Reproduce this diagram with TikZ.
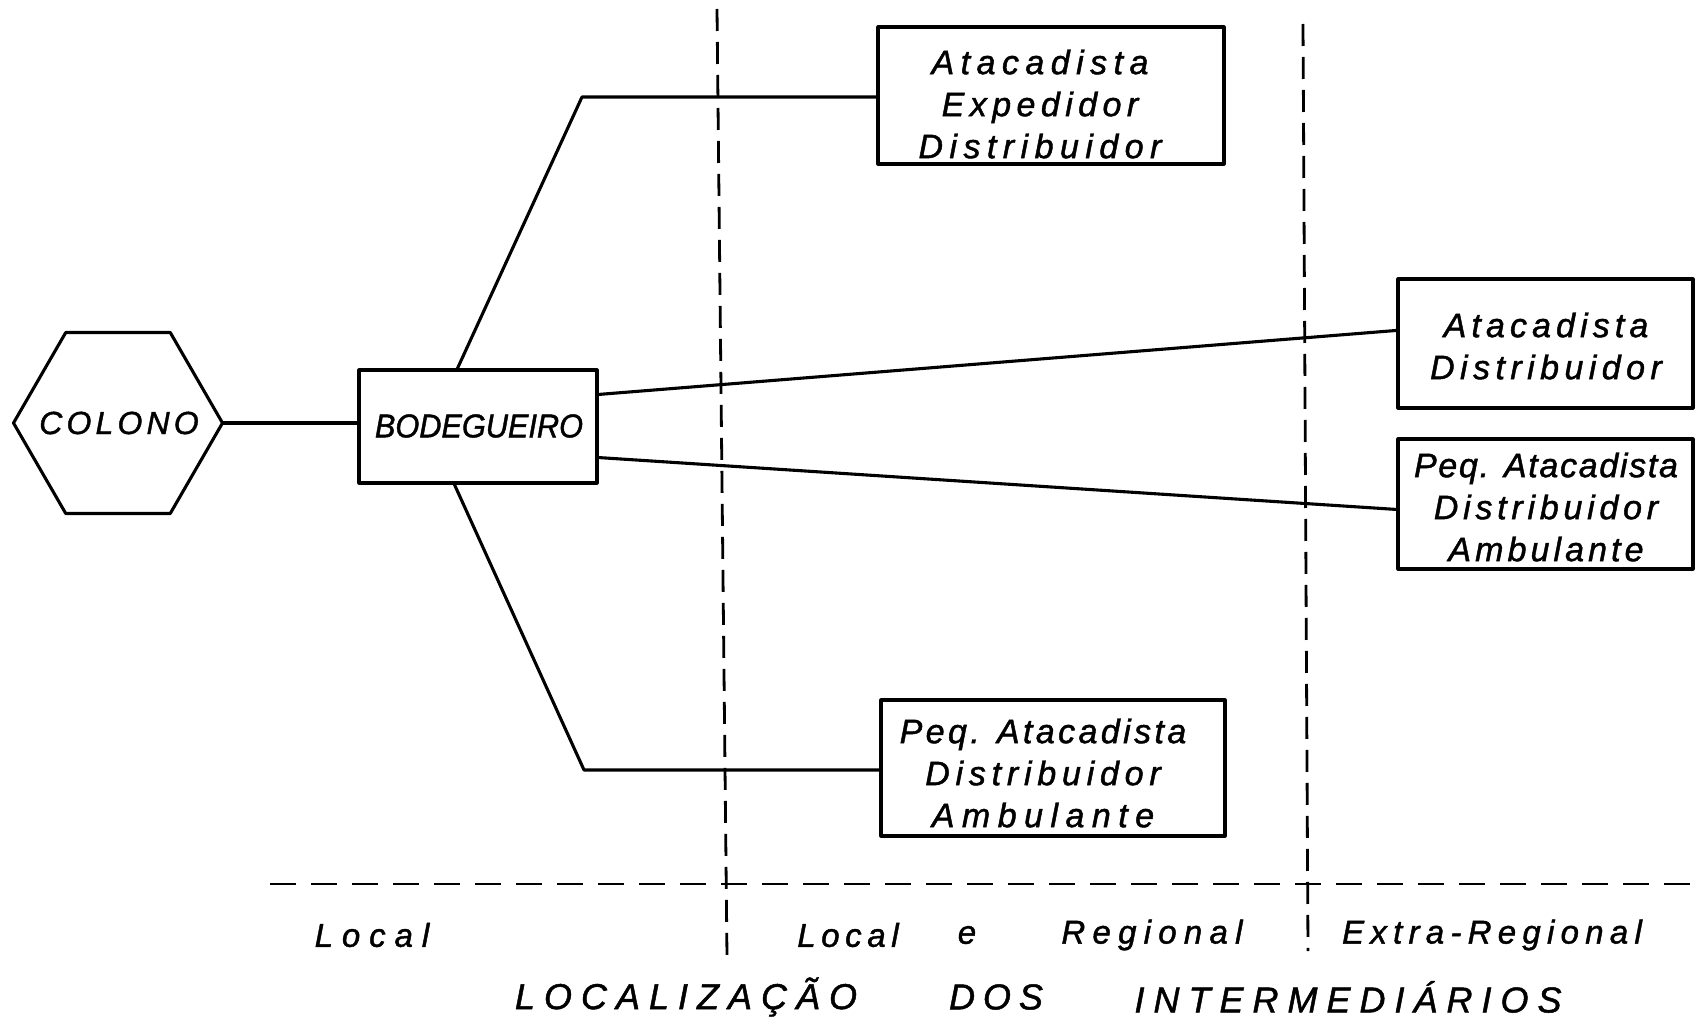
\documentclass[tikz,border=0pt]{standalone}
\usepackage{fontspec}
\setmainfont{Liberation Sans}[FakeBold=1.3]
\usetikzlibrary{calc}
% letter spacing for the wide, stencil-like lettering
\newcommand\lsp[1]{\addfontfeatures{LetterSpace=#1}}
\tikzset{
  ln/.style={line width=3.1pt, line join=round},
  box/.style={draw, ln, rectangle, inner sep=0pt},
  txt/.style={inner sep=0pt, align=center,
    font=\fontsize{34}{42}\selectfont\itshape},
  lab/.style={inner sep=0pt, font=\fontsize{33}{38}\selectfont\itshape},
  ttl/.style={inner sep=0pt, font=\fontsize{36}{42}\selectfont\itshape},
  vdash/.style={line width=2.8pt, dash pattern=on 22pt off 11pt},
  hdash/.style={line width=2.8pt, dash pattern=on 26pt off 15pt},
}
\begin{document}
\begin{tikzpicture}[x=1pt, y=-1pt]
\useasboundingbox (0,0) rectangle (1695,1019);

% producer: hexagon around its name
\node[inner sep=0pt, font=\fontsize{32}{38}\selectfont\itshape] (colono) at (119,423)
  {\lsp{13}COLONO};
\coordinate (hE) at (222.5,423);
\draw[ln] (hE) -- (170.25,513.5) -- (65.75,513.5) -- (13.5,423)
  -- (65.75,332.5) -- (170.25,332.5) -- cycle;

% first buyer
\node[box, minimum width=238pt, minimum height=113pt] (bod) at (478,426.5) {};
\node[inner sep=0pt, font=\fontsize{33}{38}\selectfont\itshape] (bodt) at (479,426)
  {\addfontfeatures{FakeStretch=0.93}BODEGUEIRO};

% intermediaries
\node[box, minimum width=346pt, minimum height=137pt] (ate) at (1051,95.5) {};
\node[txt] (atet) at (1040,104)
  {\lsp{19}Atacadista\\\lsp{16}Expedidor\\\lsp{19}Distribuidor};
\node[box, minimum width=344pt, minimum height=136pt] (pal) at (1053,768) {};
\node[txt] (palt) at (1043,773)
  {\lsp{10}Peq. Atacadista\\\lsp{17}Distribuidor\\\lsp{22}Ambulante};
\node[box, minimum width=295pt, minimum height=129pt] (ad) at (1545.5,343.5) {};
\node[txt] (adt) at (1546,346)
  {\lsp{15}Atacadista\\\lsp{16}Distribuidor};
\node[box, minimum width=295pt, minimum height=130pt] (pax) at (1545.5,504) {};
\node[txt] (paxt) at (1546,507)
  {\lsp{5}Peq. Atacadista\\\lsp{14}Distribuidor\\\lsp{12}Ambulante};

% bends of the branch lines
\coordinate (up) at (582,97);
\coordinate (dn) at (584,770);

% connectors
\draw[ln] (hE) -- (hE -| bod.west);
\draw[ln] ($(bod.north west)+(100,0)$) -- (up) -- (up -| ate.west);
\draw[ln] ($(bod.south west)+(97,0)$) -- (dn) -- (dn -| pal.west);
\draw[ln] ($(bod.north east)+(0,26)$) -- ($(ad.north west)+(0,53)$);
\draw[ln] ($(bod.south east)+(0,-27)$) -- ($(pax.north west)+(0,72)$);

% zone dividers
\coordinate (v1t) at (717,9);   \coordinate (v1b) at (727,957);
\coordinate (v2t) at (1303,24); \coordinate (v2b) at (1308,951);
\coordinate (hl) at (270,884);  \coordinate (hr) at (1695,884);
\draw[vdash] (v1t) -- (v1b);
\draw[vdash] (v2t) -- (v2b);
\draw[hdash] (hl) -- (hr);

% zone names
\node[lab] (zl) at (372,935) {\lsp{27}Local};
\node[lab] (zlr1) at (848,935) {\lsp{17}Local};
\node[lab] (zlr2) at (967,935) {e};
\node[lab] (zlr3) at (1152,935) {\lsp{22}Regional};
\node[lab] (zx) at (1492,935) {\lsp{19}Extra-Regional};

% title
\node[ttl] (t1) at (686,997) {\lsp{25}LOCALIZAÇÃO};
\node[ttl] (t2) at (996,997) {\lsp{22}DOS};
\node[ttl] (t3) at (1348,997) {\lsp{25}INTERMEDIÁRIOS};
\end{tikzpicture}
\end{document}
